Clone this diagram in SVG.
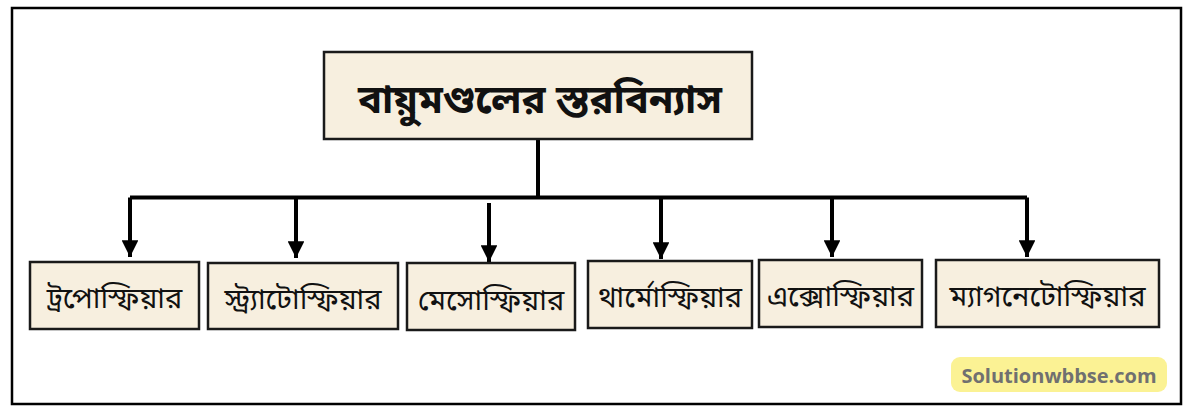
<svg xmlns="http://www.w3.org/2000/svg" width="1200" height="418" viewBox="0 0 1200 418">
<defs>
<style>
.box{fill:#f7efdf;stroke:#1a1a1a;stroke-width:2.5}
.bn{font-family:"Noto Sans Bengali","Noto Serif Bengali","Lohit Bengali","Noto Sans",sans-serif;fill:#111;text-anchor:middle}
.lbl{font-size:29px}
.ttl{font-size:40px;font-weight:bold}
.ln{stroke:#000;stroke-width:4;fill:none}
</style>
<marker id="ah" viewBox="0 0 10 10" refX="10" refY="5" markerWidth="4.2" markerHeight="4.2" orient="auto" markerUnits="strokeWidth">
<path d="M0,0 L10,5 L0,10 z" fill="#000"/>
</marker>
</defs>
<rect x="0" y="0" width="1200" height="418" fill="#fff"/>
<rect x="12" y="8" width="1169" height="396" fill="none" stroke="#000" stroke-width="2.5"/>
<g id="connectors">
<path class="ln" d="M538,139 V197.5"/>
<path class="ln" d="M130,197.5 H1027"/>
<path class="ln" d="M130,197.5 V257" marker-end="url(#ah)"/>
<path class="ln" d="M296,197.5 V258" marker-end="url(#ah)"/>
<path class="ln" d="M489,203 V262" marker-end="url(#ah)"/>
<path class="ln" d="M661,197.5 V259" marker-end="url(#ah)"/>
<path class="ln" d="M832,197.5 V257" marker-end="url(#ah)"/>
<path class="ln" d="M1027,197.5 V257" marker-end="url(#ah)"/>
</g>
<g id="title">
<rect class="box" x="324" y="52" width="428" height="87"/>
<text class="bn ttl" x="540" y="113">বায়ুমণ্ডলের স্তরবিন্যাস</text>
</g>
<g id="troposphere">
<rect class="box" x="30" y="262" width="169" height="67"/>
<text class="bn lbl" x="114.5" y="308">ট্রপোস্ফিয়ার</text>
</g>
<g id="stratosphere">
<rect class="box" x="208" y="263" width="190" height="66"/>
<text class="bn lbl" x="303" y="309">স্ট্র্যাটোস্ফিয়ার</text>
</g>
<g id="mesosphere">
<rect class="box" x="407" y="263" width="168" height="67"/>
<text class="bn lbl" x="491" y="310">মেসোস্ফিয়ার</text>
</g>
<g id="thermosphere">
<rect class="box" x="588" y="261" width="164" height="67"/>
<text class="bn lbl" x="670" y="307">থার্মোস্ফিয়ার</text>
</g>
<g id="exosphere">
<rect class="box" x="759" y="260" width="163" height="67"/>
<text class="bn lbl" x="840.5" y="306">এক্সোস্ফিয়ার</text>
</g>
<g id="magnetosphere">
<rect class="box" x="936" y="260" width="223" height="67"/>
<text class="bn lbl" x="1047.5" y="306">ম্যাগনেটোস্ফিয়ার</text>
</g>
<g id="watermark">
<rect x="951" y="357" width="216" height="35" rx="9" fill="#fbf294"/>
<text x="1059" y="382.5" font-family="'Open Sans','Noto Sans',sans-serif" font-weight="bold" font-size="20" fill="#707070" text-anchor="middle">Solutionwbbse.com</text>
</g>
</svg>
